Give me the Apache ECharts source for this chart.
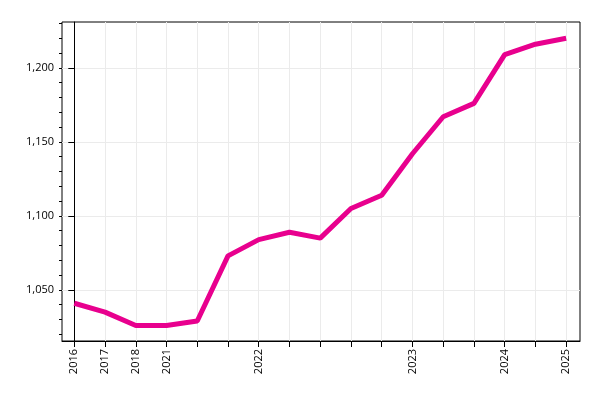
<!DOCTYPE html>
<html><head><meta charset="utf-8">
<script src="https://cdn.jsdelivr.net/npm/echarts@6/dist/echarts.min.js"></script>
<style>body{margin:0}#c{width:600px;height:400px}</style></head>
<body><div id="c"></div>
<script>
const tickLabels = ['2016','2017','2018','2021','','','2022','','','','','2023','','','2024','','2025'];
const values = [1041,1035,1026,1026,1029,1073,1084,1089,1085,1105,1114,1142,1167,1176,1209,1216,1220];
const yMajor = [1050,1100,1150,1200];
const yMinor = [1020,1030,1040,1050,1060,1070,1080,1090,1100,1110,1120,1130,1140,1150,1160,1170,1180,1190,1200,1210,1220,1230];
const xIdx = tickLabels.map((_,i)=>i);
const chart = echarts.init(document.getElementById('c'));
const YMIN=1015.5, YMAX=1231;
chart.setOption({
  animation:false,
  grid:{left:62,right:20,top:22,bottom:59,show:true,borderColor:'#000',borderWidth:1},
  xAxis:{type:'value',min:-0.4,max:16.45,
    axisLine:{show:true,lineStyle:{color:'#000'}},
    axisTick:{show:true,customValues:xIdx,length:6,lineStyle:{color:'#000'}},
    splitLine:{show:true,lineStyle:{color:'#ebebeb'}},
    axisLabel:{rotate:90,color:'#000',fontFamily:'Open Sans',fontSize:11,customValues:xIdx,
      formatter:v=>tickLabels[Math.round(v)]||''}},
  yAxis:[
    {type:'value',min:YMIN,max:YMAX,
    axisLine:{show:true,lineStyle:{color:'#000'}},
    axisTick:{show:true,customValues:yMajor,length:6,lineStyle:{color:'#000'}},
    splitLine:{show:true,lineStyle:{color:'#ebebeb'}},
    axisLabel:{color:'#000',fontFamily:'Open Sans',fontSize:11,customValues:yMajor}},
    {type:'value',min:YMIN,max:YMAX,position:'left',
    axisLine:{show:false},
    axisTick:{show:true,customValues:yMinor,length:3,lineStyle:{color:'#000'}},
    splitLine:{show:false},axisLabel:{show:false}}
  ],
  series:[{type:'line',data:values.map((v,i)=>[i,v]),showSymbol:false,
    lineStyle:{color:'#e8008e',width:5},itemStyle:{color:'#e8008e'}}]
});
</script></body></html>
